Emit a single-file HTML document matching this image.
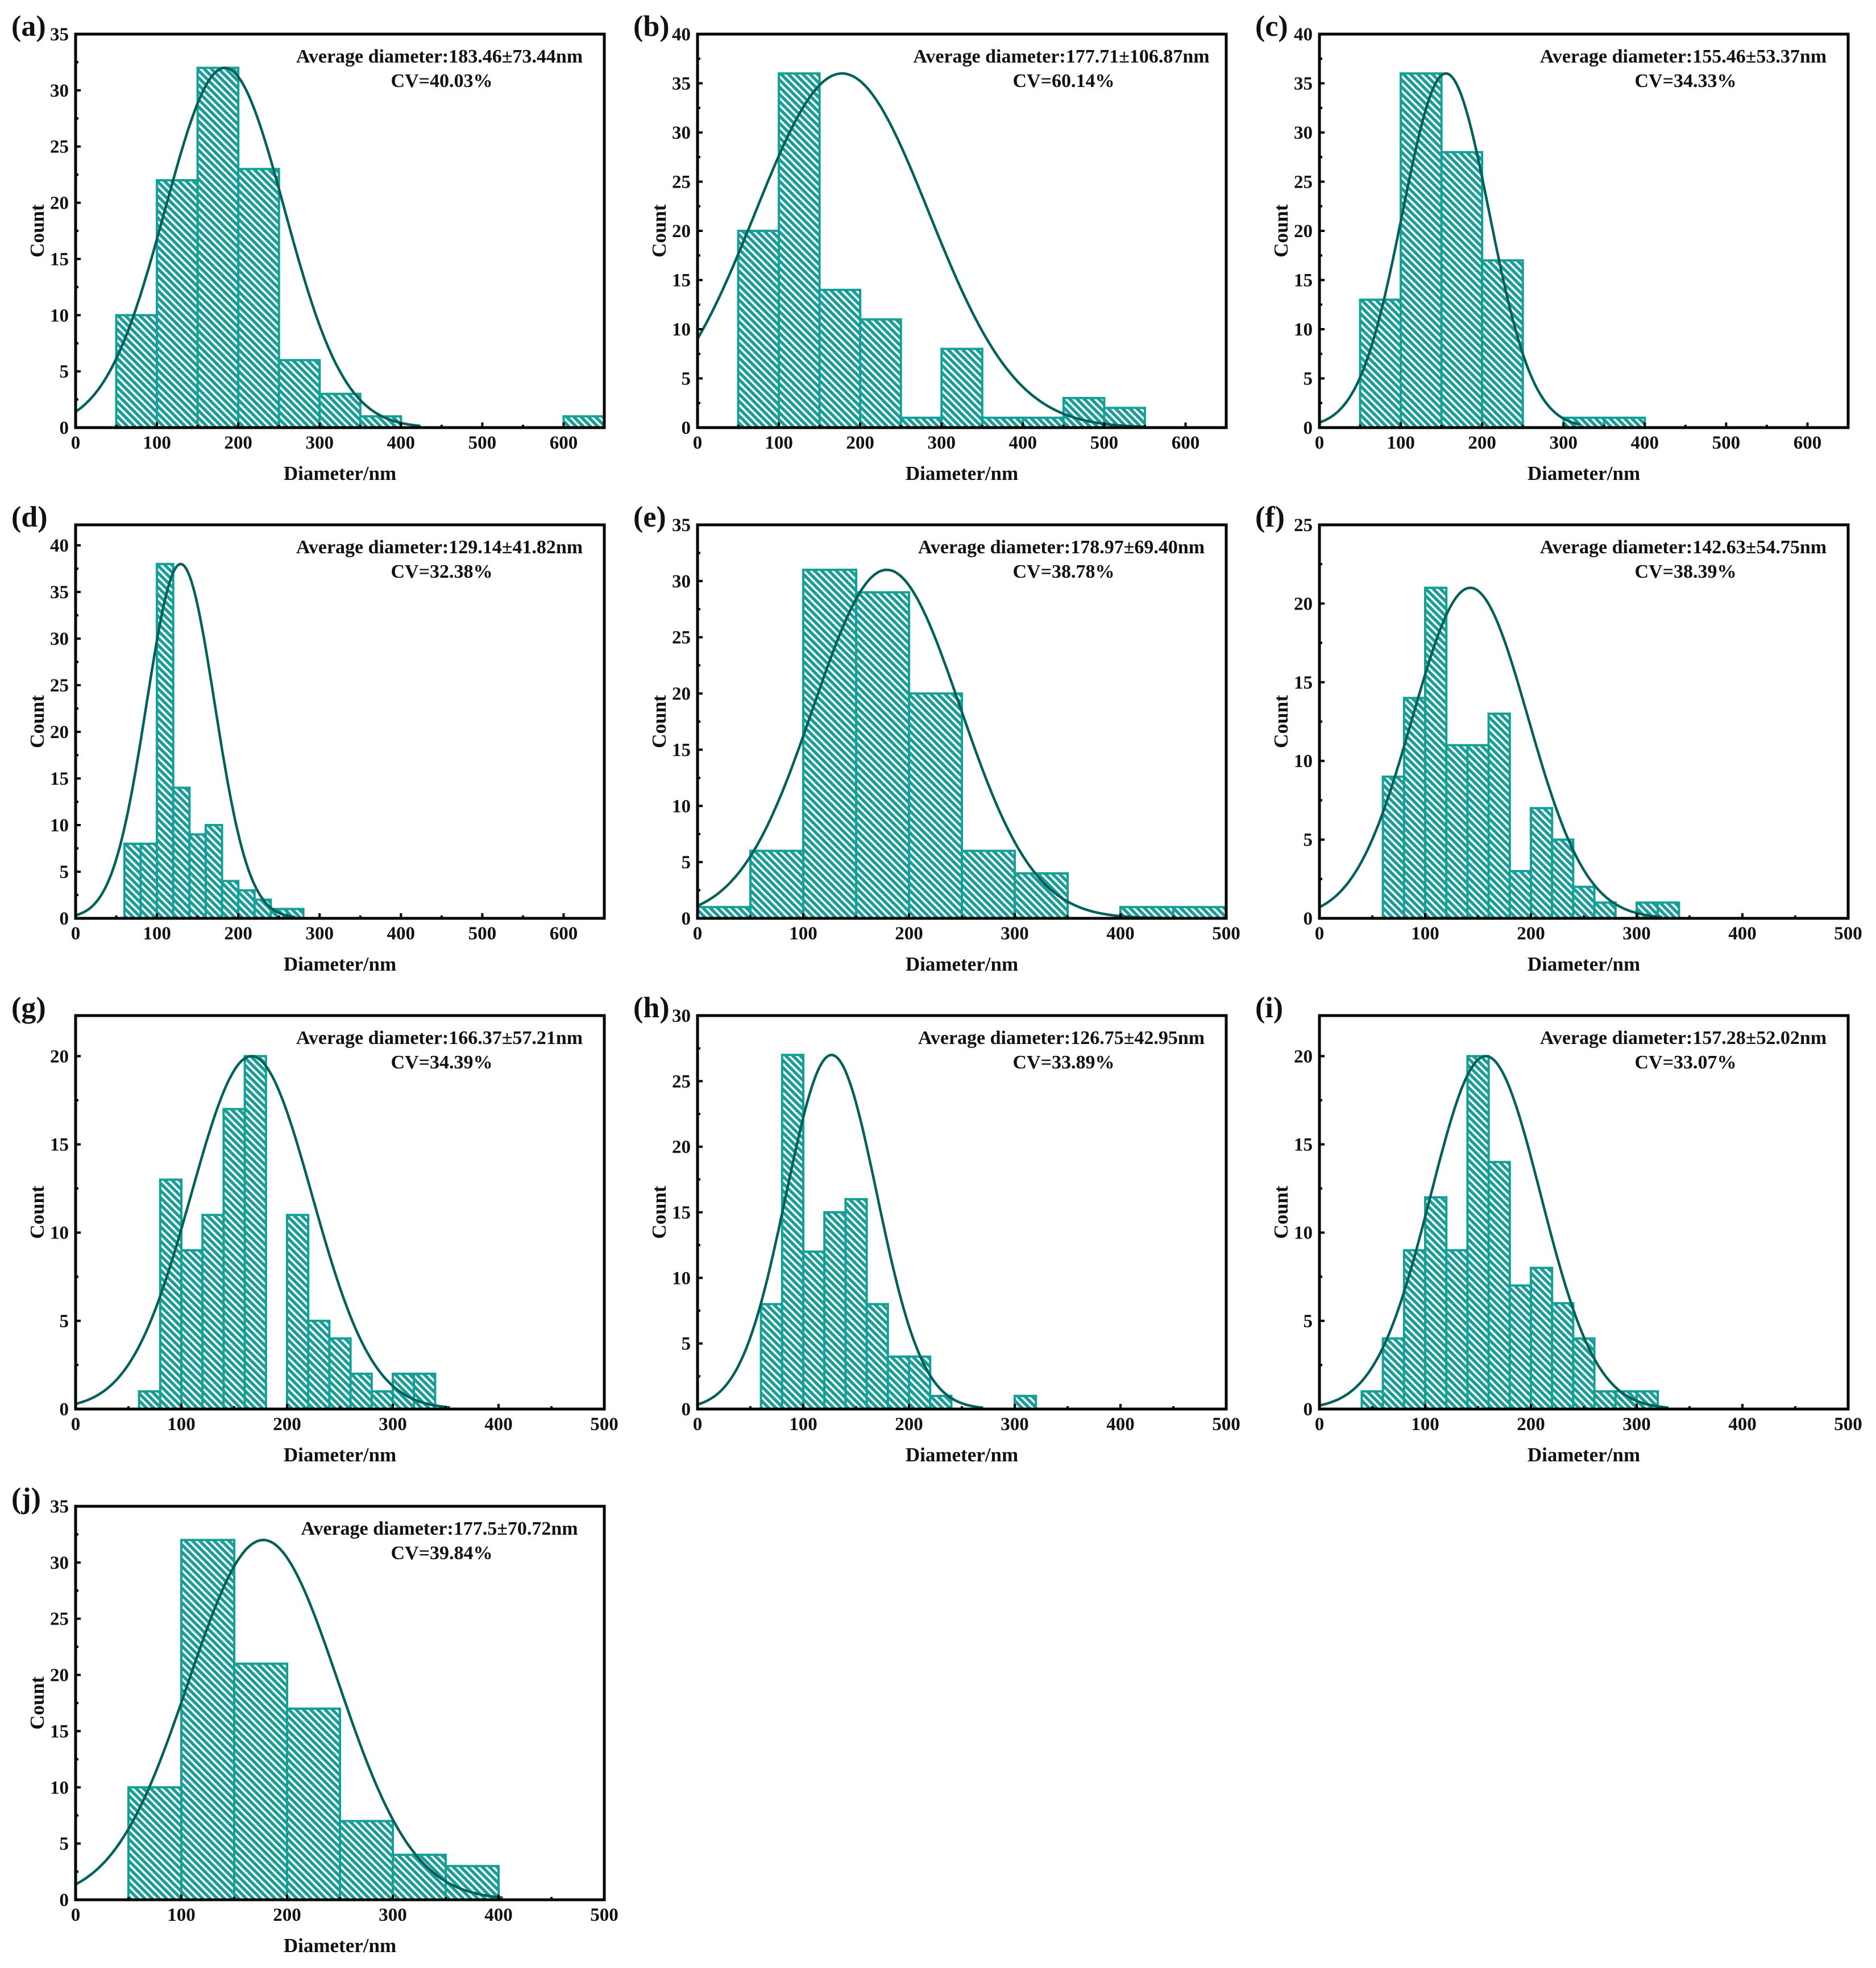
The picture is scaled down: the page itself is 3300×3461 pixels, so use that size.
<!DOCTYPE html>
<html><head><meta charset="utf-8">
<style>
html,body{margin:0;padding:0;background:#fff;}
svg{display:block;}
text{font-family:"Liberation Serif","Times New Roman","Nimbus Roman",Times,serif;font-weight:bold;fill:#111;}
</style></head>
<body>
<svg id="fig" xmlns="http://www.w3.org/2000/svg" width="3300" height="3461" viewBox="0 0 3300 3461">
<defs>
<pattern id="hatch" patternUnits="userSpaceOnUse" width="9" height="9" patternTransform="rotate(-45)">
<rect width="9" height="9" fill="#1a9d96"/>
<rect x="0" y="0" width="3.6" height="9" fill="#ffffff"/>
</pattern>
</defs>
</svg>
<script>
// ---- data per panel ----
const panelLetters = ["(a)","(b)","(c)","(d)","(e)","(f)","(g)","(h)","(i)","(j)"];
const xMaxes = [650,650,650,650,500,500,500,500,500,500];
const yMaxes = [35,40,40,42.2,35,25,22.3,30,22.3,35];
const binStarts = [50,50,50,60,0,60,60,60,40,50];
const binWidths = [50,50,50,20,50,20,20,20,20,50];
const countsA = [10,22,32,23,6,3,1,0,0,0,0,1];
const countsB = [20,36,14,11,1,8,1,1,3,2];
const countsC = [13,36,28,17,0,1,1];
const countsD = [8,8,38,14,9,10,4,3,2,1,1];
const countsE = [1,6,31,29,20,6,4,0,1,1];
const countsF = [9,14,21,11,11,13,3,7,5,2,1,0,1,1];
const countsG = [1,13,9,11,17,20,0,11,5,4,2,1,2,2];
const countsH = [8,27,12,15,16,8,4,4,1,0,0,0,1];
const countsI = [1,4,9,12,9,20,14,7,8,6,4,1,1,1];
const countsJ = [10,32,21,17,7,4,3];
const allCounts = [countsA,countsB,countsC,countsD,countsE,countsF,countsG,countsH,countsI,countsJ];
const means = [183.46,177.71,155.46,129.14,178.97,142.63,166.37,126.75,157.28,177.5];
const sds = [73.44,106.87,53.37,41.82,69.40,54.75,57.21,42.95,52.02,70.72];
const peaks = [32,36,36,38,31,21,20,27,20,32];
const curveEnds = [425,550,320,270,500,325,355,270,330,405];
const avgLabels = ["Average diameter:183.46±73.44nm","Average diameter:177.71±106.87nm","Average diameter:155.46±53.37nm","Average diameter:129.14±41.82nm","Average diameter:178.97±69.40nm","Average diameter:142.63±54.75nm","Average diameter:166.37±57.21nm","Average diameter:126.75±42.95nm","Average diameter:157.28±52.02nm","Average diameter:177.5±70.72nm"];
const cvLabels = ["CV=40.03%","CV=60.14%","CV=34.33%","CV=32.38%","CV=38.78%","CV=38.39%","CV=34.39%","CV=33.89%","CV=33.07%","CV=39.84%"];

const NS="http://www.w3.org/2000/svg";
const svg=document.getElementById('fig');
const colLeft=[133,1227,2321], rowTop=[60,923,1786,2649];
const PW=930, PH=692;
function mk(tag,attrs,parent){const e=document.createElementNS(NS,tag);for(const k in attrs)e.setAttribute(k,attrs[k]);(parent||svg).appendChild(e);return e;}

for(let p=0;p<10;p++){
  const L=colLeft[p%3], T=rowTop[Math.floor(p/3)], B=T+PH, R=L+PW;
  const xmax=xMaxes[p], ymax=yMaxes[p];
  const sx=v=>L+v/xmax*PW, sy=v=>B-v/ymax*PH;
  const g=mk('g',{});
  
  
  const clipId='clip'+p;
  const cp=mk('clipPath',{id:clipId},g);
  mk('rect',{x:L,y:T,width:PW,height:PH},cp);
  const counts=allCounts[p];
  counts.forEach((c,i)=>{
    if(c<=0)return;
    const x0=binStarts[p]+i*binWidths[p], x1=x0+binWidths[p];
    const r=mk('rect',{x:sx(x0),y:sy(c),width:sx(x1)-sx(x0),height:B-sy(c),fill:'url(#hatch)',stroke:'#13a098','stroke-width':4},g);
    
    
  });
  let d='';
  for(let x=0;x<=curveEnds[p];x+=2){
    const y=peaks[p]*Math.exp(-Math.pow(x-means[p],2)/(2*sds[p]*sds[p]));
    d+=(x===0?'M':'L')+sx(x).toFixed(1)+' '+sy(y).toFixed(1);
  }
  const cv=mk('path',{d:d,fill:'none',stroke:'#00615c','stroke-width':4.5,'clip-path':'url(#'+clipId+')'},g);
  
  
  for(let v=0;v<=xmax+0.01;v+=50){
    const major=v%100===0;
    mk('line',{x1:sx(v),x2:sx(v),y1:B,y2:B-(major?9:5),stroke:'#000','stroke-width':4},g);
    if(major){
      const t=mk('text',{x:sx(v),y:B+37,'text-anchor':'middle','font-size':33},g);
      t.textContent=v;
      
      
    }
  }
  for(let v=0;v<=ymax+0.01;v+=2.5){
    const major=Math.abs(v%5)<0.01;
    mk('line',{x1:L,x2:L+(major?9:5),y1:sy(v),y2:sy(v),stroke:'#000','stroke-width':4},g);
    if(major){
      const t=mk('text',{x:L-12,y:sy(v)+11,'text-anchor':'end','font-size':33},g);
      t.textContent=v;
      
      
    }
  }
  const fr=mk('rect',{x:L,y:T,width:PW,height:PH,fill:'none',stroke:'#000','stroke-width':5},g);
  
  
  const pl=mk('text',{x:L-113,y:T+3,'font-size':52},g);
  pl.textContent=panelLetters[p];
  
  
  const xt=mk('text',{x:L+PW/2,y:B+92,'text-anchor':'middle','font-size':35},g);
  xt.textContent='Diameter/nm';
  
  
  const yt=mk('text',{x:0,y:0,'text-anchor':'middle','font-size':35,transform:'translate('+(L-56)+','+(T+PH/2)+') rotate(-90)'},g);
  yt.textContent='Count';
  
  
  const at=mk('text',{x:L+640,y:T+50,'text-anchor':'middle','font-size':34},g);
  at.textContent=avgLabels[p];
  
  
  const ct=mk('text',{x:L+644,y:T+93,'text-anchor':'middle','font-size':34},g);
  ct.textContent=cvLabels[p];
  
  
}
</script>
</body></html>
